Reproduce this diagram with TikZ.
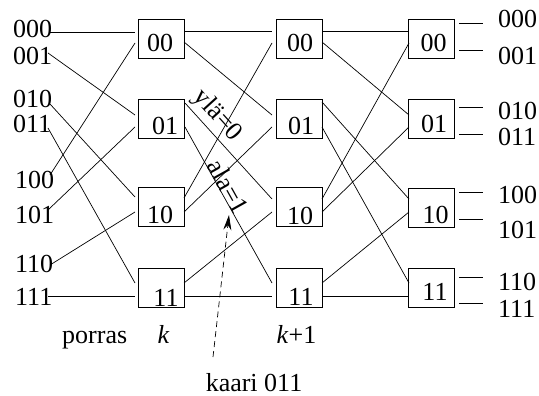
\documentclass[tikz,border=0pt]{standalone}
\usepackage{fontspec}
\setmainfont{Liberation Serif}
\usetikzlibrary{arrows.meta}
\newcommand\trellisfont{\fontsize{26pt}{30pt}\selectfont}
\begin{document}
\begin{tikzpicture}[x=1pt,y=-1pt,
  wire/.style={line width=0.7pt},
  box/.style={draw,line width=0.8pt,minimum width=46pt,minimum height=39pt,inner sep=0pt},
  txt/.style={inner sep=0pt,font=\trellisfont},
  tag/.style={txt,anchor=base west},
  inbox/.style={txt,anchor=base},
  edgelabel/.style={font=\trellisfont,sloped},
]
\useasboundingbox (0,0) rectangle (539,396);

% ---- state boxes: stage k, k+1, k+2 ----
\node[box] (a00) at (161,38.5) {};
\node[box] (a01) at (161,118.5) {};
\node[box] (a10) at (161,206.5) {};
\node[box] (a11) at (161,288) {};
\node[box] (b00) at (299.5,38.5) {};
\node[box] (b01) at (299.5,118.5) {};
\node[box] (b10) at (299.5,207) {};
\node[box] (b11) at (299.5,288) {};
\node[box] (c00) at (431.5,38.5) {};
\node[box] (c01) at (431.5,118.5) {};
\node[box] (c10) at (431.5,207.5) {};
\node[box] (c11) at (431.5,287.5) {};

% state names inside the boxes
\node[inbox] (ta00) at (160,52) {00};
\node[inbox] (ta01) at (165,135) {01};
\node[inbox] (ta10) at (160,223) {10};
\node[inbox] (ta11) at (166,306) {11};
\node[inbox] (tb00) at (300,52) {00};
\node[inbox] (tb01) at (301,135) {01};
\node[inbox] (tb10) at (300,224) {10};
\node[inbox] (tb11) at (301,305) {11};
\node[inbox] (tc00) at (433.5,52) {00};
\node[inbox] (tc01) at (434,133) {01};
\node[inbox] (tc10) at (435.5,223) {10};
\node[inbox] (tc11) at (435,300) {11};

% ---- incoming paths ----
\node[tag] (in000) at (13,38) {000};
\node[tag] (in001) at (13,65) {001};
\node[tag] (in010) at (13,108) {010};
\node[tag] (in011) at (13,133) {011};
\node[tag] (in100) at (15,188) {100};
\node[tag] (in101) at (15,223) {101};
\node[tag] (in110) at (15,272) {110};
\node[tag] (in111) at (15,305) {111};

\coordinate (p000) at (50,32);
\coordinate (p001) at (48,53);
\coordinate (p010) at (50,104);
\coordinate (p011) at (48,128);
\coordinate (p100) at (50,175);
\coordinate (p101) at (48,210);
\coordinate (p110) at (50,265);
\coordinate (p111) at (48,296);

% ports of the boxes
\coordinate (a00i1) at (135,32);  \coordinate (a00i2) at (135,43);
\coordinate (a01i1) at (135,115); \coordinate (a01i2) at (135,127);
\coordinate (a10i1) at (135,197); \coordinate (a10i2) at (135,212);
\coordinate (a11i1) at (135,283); \coordinate (a11i2) at (135,296);

\coordinate (a00o1) at (184,31);  \coordinate (a00o2) at (184,42);
\coordinate (a01o1) at (185,103); \coordinate (a01o2) at (185,127);
\coordinate (a10o1) at (184,198); \coordinate (a10o2) at (184,212);
\coordinate (a11o1) at (184,283); \coordinate (a11o2) at (184,296);

\coordinate (b00i1) at (272,31);  \coordinate (b00i2) at (272,43);
\coordinate (b01i1) at (272,115); \coordinate (b01i2) at (272,127);
\coordinate (b10i1) at (272,199); \coordinate (b10i2) at (272,212);
\coordinate (b11i1) at (272,283); \coordinate (b11i2) at (272,296);

\coordinate (b00o1) at (322,31);  \coordinate (b00o2) at (322,42);
\coordinate (b01o1) at (322,102); \coordinate (b01o2) at (322,127);
\coordinate (b10o1) at (322,199); \coordinate (b10o2) at (322,212);
\coordinate (b11o1) at (322,283); \coordinate (b11o2) at (322,296);

\coordinate (c00i1) at (409,31);  \coordinate (c00i2) at (409,43);
\coordinate (c01i1) at (409,115); \coordinate (c01i2) at (409,127);
\coordinate (c10i1) at (409,199); \coordinate (c10i2) at (409,212);
\coordinate (c11i1) at (409,283); \coordinate (c11i2) at (409,296);

\draw[wire] (p000) -- (a00i1);
\draw[wire] (p001) -- (a01i1);
\draw[wire] (p010) -- (a10i1);
\draw[wire] (p011) -- (a11i1);
\draw[wire] (p100) -- (a00i2);
\draw[wire] (p101) -- (a01i2);
\draw[wire] (p110) -- (a10i2);
\draw[wire] (p111) -- (a11i2);

% ---- transitions k -> k+1 ----
\draw[wire] (a00o1) -- (b00i1);
\draw[wire] (a00o2) -- (b01i1);
\draw[wire] (a01o1) -- node[edgelabel,pos=0.24,above] {ylä=0} (b10i1);
\draw[wire] (a01o2) -- node[edgelabel,pos=0.41,above=-4pt] {ala=1} (b11i1);
\draw[wire] (a10o1) -- (b00i2);
\draw[wire] (a10o2) -- (b01i2);
\draw[wire] (a11o1) -- (b10i2);
\draw[wire] (a11o2) -- (b11i2);

% ---- transitions k+1 -> k+2 ----
\draw[wire] (b00o1) -- (c00i1);
\draw[wire] (b00o2) -- (c01i1);
\draw[wire] (b01o1) -- (c10i1);
\draw[wire] (b01o2) -- (c11i1);
\draw[wire] (b10o1) -- (c00i2);
\draw[wire] (b10o2) -- (c01i2);
\draw[wire] (b11o1) -- (c10i2);
\draw[wire] (b11o2) -- (c11i2);

% ---- outgoing paths ----
\node[tag] (out000) at (498,28) {000};
\node[tag] (out001) at (498,65) {001};
\node[tag] (out010) at (498,120) {010};
\node[tag] (out011) at (498,146) {011};
\node[tag] (out100) at (498,203) {100};
\node[tag] (out101) at (498,238) {101};
\node[tag] (out110) at (498,290) {110};
\node[tag] (out111) at (498,317) {111};

\foreach \n/\y in {000/23,001/50,010/107,011/134,100/192,101/219,110/277,111/303}{
  \coordinate (s\n a) at (459,\y);
  \coordinate (s\n b) at (483,\y);
  \draw[wire] (s\n a) -- (s\n b);
}

% ---- stage labels ----
\node[tag] (porras) at (62,343) {porras};
\node[inbox] (stk) at (163.5,343) {\textit{k}};
\node[inbox] (stk1) at (296.5,343) {\textit{k}+1};
\node[inbox] (kaari) at (254,391) {kaari 011};

% pointer to the arc 011
\coordinate (ptail) at (213,357);
\coordinate (ptip) at (229,215);
\draw[line width=0.7pt,dash pattern=on 6pt off 4pt,-{Stealth[length=15pt,width=8pt]}] (ptail) -- (ptip);
\end{tikzpicture}
\end{document}
